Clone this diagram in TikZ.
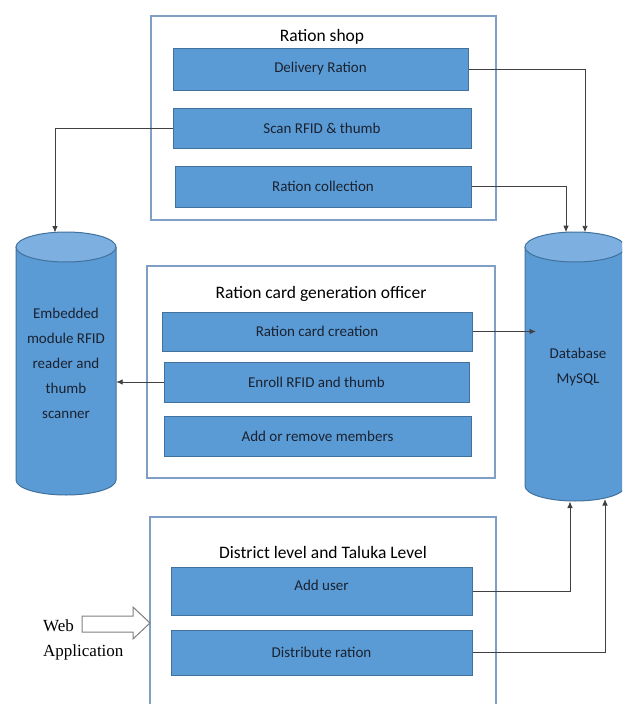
\documentclass[tikz,border=0pt]{standalone}
\usepackage{fontspec}
\setmainfont{Carlito}
\newfontfamily\webfont{Liberation Serif}
\usetikzlibrary{arrows.meta}
\definecolor{boxfill}{HTML}{5B9BD5}
\definecolor{boxedge}{HTML}{41719C}
\definecolor{outeredge}{HTML}{7F9FC5}
\definecolor{capfill}{HTML}{7DB0E0}
\definecolor{wirecol}{HTML}{404040}
\definecolor{txt}{HTML}{1A2230}
\definecolor{webedge}{HTML}{808080}
\begin{document}
\begin{tikzpicture}[x=1pt,y=-1pt,
  outerbox/.style={draw=outeredge, line width=1.3pt, fill=white, inner sep=0pt},
  itembox/.style={draw=boxedge, line width=1pt, fill=boxfill, inner sep=0pt,
     font=\fontsize{15}{18}\selectfont, text=txt},
  titletext/.style={font=\fontsize{17.5}{20}\selectfont, text=black, inner sep=0pt},
  cyltext/.style={font=\fontsize{15}{25}\selectfont, text=txt, align=center, inner sep=0pt},
  wire/.style={draw=wirecol, line width=0.9pt, -{Latex[length=6.5pt,width=5.5pt]}},
  cylbody/.style={fill=boxfill},
  cyledge/.style={draw=boxedge, line width=1pt},
  webtext/.style={font=\webfont\fontsize{17}{20}\selectfont, text=black, inner sep=0pt, anchor=west}
]
\useasboundingbox (0,0) rectangle (622,704);
\clip (0,0) rectangle (622,704);
\fill[white] (0,0) rectangle (622,704);

% outer boxes
\node[outerbox, minimum width=345pt, minimum height=204pt] (shop) at (323.5,118) {};
\node[outerbox, minimum width=348pt, minimum height=212pt] (officer) at (321,372) {};
\node[outerbox, minimum width=346pt, minimum height=203pt] (district) at (323,618.5) {};

% titles
\node[titletext] (shopt) at (322,37) {Ration shop};
\node[titletext] (offt) at (321,294) {Ration card generation officer};
\node[titletext] (distt) at (323,552) {District level and Taluka Level};

% item boxes
\node[itembox, minimum width=295pt, minimum height=42pt] (dr) at (320.5,69) {Delivery Ration};
\node[itembox, minimum width=298pt, minimum height=40pt] (scan) at (322,128) {Scan RFID \& thumb};
\node[itembox, minimum width=296pt, minimum height=41pt] (coll) at (323,186.5) {Ration collection};
\node[itembox, minimum width=310pt, minimum height=39pt] (rcc) at (317,331.5) {Ration card creation};
\node[itembox, minimum width=305pt, minimum height=40pt] (enr) at (316.5,382) {Enroll RFID and thumb};
\node[itembox, minimum width=307pt, minimum height=40pt] (arm) at (317.5,436) {Add or remove members};
\node[itembox, minimum width=301pt, minimum height=48pt] (au) at (321.5,591) {};
\node[itembox, minimum width=301pt, minimum height=45pt] (dis) at (321.5,652.5) {Distribute ration};
\node[font=\fontsize{15}{18}\selectfont, text=txt, inner sep=0pt] (aut) at (321.5,585) {Add user};

% left cylinder
\fill[cylbody] (16,247) -- (16,480) arc[start angle=180,end angle=360,x radius=50pt,y radius=15pt] -- (116,247) -- cycle;
\draw[cyledge] (16,247) -- (16,480) arc[start angle=180,end angle=360,x radius=50pt,y radius=15pt] -- (116,247);
\draw[cyledge, fill=capfill] (66,247) ellipse[x radius=50pt, y radius=15pt];
\node[cyltext, minimum width=100pt, minimum height=233pt] (emb) at (66,363.5)
  {Embedded\\module RFID\\reader and\\thumb\\scanner};

% right cylinder
\fill[cylbody] (525,247) -- (525,486) arc[start angle=180,end angle=360,x radius=50pt,y radius=15pt] -- (625,247) -- cycle;
\draw[cyledge] (525,247) -- (525,486) arc[start angle=180,end angle=360,x radius=50pt,y radius=15pt] -- (625,247);
\draw[cyledge, fill=capfill] (575,247) ellipse[x radius=50pt, y radius=15pt];
\node[cyltext, minimum width=100pt, minimum height=239pt] (db) at (578,366.5) {Database\\MySQL};

% connector ends
\coordinate (embtop) at (55,232.5);
\coordinate (dbtopA) at (585,232.3);
\coordinate (dbtopB) at (566,232.2);
\coordinate (dbleft) at (536,331.5);
\coordinate (dbbotA) at (570,501.5);
\coordinate (dbbotB) at (605,499);

% connectors
\draw[wire] (scan.west) -| (embtop);
\draw[wire] (enr.west) -- (enr.west -| emb.east);
\draw[wire] (dr.east) -| (dbtopA);
\draw[wire] (coll.east) -| (dbtopB);
\draw[wire] (rcc.east) -- (dbleft);
\draw[wire] (au.east) -| (dbbotA);
\draw[wire] (dis.east) -| (dbbotB);

% web application arrow
\draw[draw=webedge, line width=1pt, fill=white]
  (82,616) -- (133,616) -- (133,607) -- (150,623) -- (133,639) -- (133,632) -- (82,632) -- cycle;
\node[webtext] (web) at (43,626) {Web};
\node[webtext] (app) at (43,652) {Application};
\end{tikzpicture}
\end{document}
